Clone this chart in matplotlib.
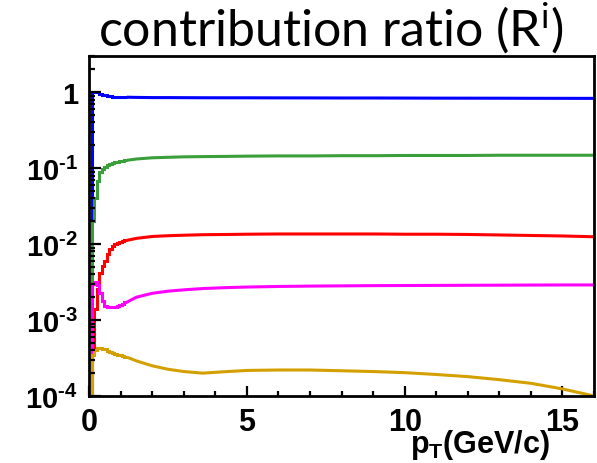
import math
import matplotlib
matplotlib.use("Agg")
import matplotlib.pyplot as plt
from matplotlib.ticker import FixedLocator, LogLocator, FuncFormatter, NullFormatter

# low pT part: histogram bins of 0.08 GeV/c
low_edges = [0.0, 0.08, 0.16, 0.24, 0.32, 0.40, 0.48, 0.56, 0.64, 0.72, 0.80,
             0.88, 0.96, 1.04, 1.12, 1.20]
blue_low = [0.021, 1.0, 1.01, 1.0, 0.96, 0.93, 0.91, 0.895, 0.885, 0.878, 0.872,
            0.868, 0.865, 0.862, 0.86]
green_low = [2.8e-3, 0.020, 0.041, 0.068, 0.088, 0.097, 0.105, 0.110, 0.113, 0.116,
             0.119, 0.121, 0.123, 0.125, 0.127]
red_low = [5e-5, 3.6e-4, 1.4e-3, 2.6e-3, 4.2e-3, 5.2e-3, 6.0e-3, 7.4e-3, 8.6e-3,
           9.5e-3, 1.0e-2, 1.04e-2, 1.07e-2, 1.1e-2, 1.12e-2]
magenta_low = [5e-5, 3.0e-3, 3.2e-3, 2.9e-3, 2.3e-3, 1.8e-3, 1.55e-3, 1.5e-3, 1.47e-3,
               1.47e-3, 1.5e-3, 1.55e-3, 1.6e-3, 1.65e-3, 1.72e-3]
gold_low = [5e-5, 3.5e-4, 4.0e-4, 4.25e-4, 4.28e-4, 4.2e-4, 4.1e-4, 3.95e-4, 3.8e-4,
            3.7e-4, 3.6e-4, 3.5e-4, 3.42e-4, 3.35e-4, 3.25e-4]

# high pT part: smooth, read at these pT values
pt_high = [1.2, 1.5, 2.0, 2.5, 3.0, 3.6, 4.4, 5, 6, 7, 8, 9, 10, 11, 12, 13, 14, 15, 16]
blue_high = [0.86, 0.855, 0.85, 0.85, 0.848, 0.846, 0.845, 0.845, 0.843, 0.842, 0.84,
             0.84, 0.838, 0.836, 0.835, 0.834, 0.832, 0.831, 0.83]
green_high = [0.127, 0.132, 0.137, 0.139, 0.141, 0.142, 0.143, 0.144, 0.145, 0.145,
              0.146, 0.146, 0.147, 0.147, 0.147, 0.148, 0.148, 0.148, 0.148]
red_high = [1.12e-2, 1.19e-2, 1.26e-2, 1.29e-2, 1.31e-2, 1.33e-2, 1.34e-2, 1.35e-2,
            1.36e-2, 1.36e-2, 1.36e-2, 1.36e-2, 1.35e-2, 1.35e-2, 1.34e-2, 1.32e-2,
            1.3e-2, 1.28e-2, 1.25e-2]
magenta_high = [1.72e-3, 2.0e-3, 2.25e-3, 2.4e-3, 2.5e-3, 2.6e-3, 2.68e-3, 2.72e-3,
                2.77e-3, 2.8e-3, 2.82e-3, 2.84e-3, 2.85e-3, 2.86e-3, 2.87e-3, 2.88e-3,
                2.89e-3, 2.9e-3, 2.9e-3]
gold_high = [3.25e-4, 2.9e-4, 2.5e-4, 2.25e-4, 2.1e-4, 2.0e-4, 2.1e-4, 2.17e-4, 2.2e-4,
             2.2e-4, 2.15e-4, 2.1e-4, 2.03e-4, 1.92e-4, 1.8e-4, 1.64e-4, 1.47e-4,
             1.24e-4, 1.0e-4]

series = [
    (blue_low, blue_high, "#0000ff"),
    (green_low, green_high, "#3a9e3a"),
    (red_low, red_high, "#ff0000"),
    (magenta_low, magenta_high, "#ff00ff"),
    (gold_low, gold_high, "#d4a000"),
]

plt.rcParams['mathtext.fontset'] = 'custom'
plt.rcParams['mathtext.rm'] = 'Liberation Sans:bold'
plt.rcParams['mathtext.it'] = 'Liberation Sans:bold'
plt.rcParams['mathtext.bf'] = 'Liberation Sans:bold'

fig = plt.figure(figsize=(5.97, 4.64), dpi=100)
ax = fig.add_axes([89 / 597, 1 - 397 / 464, 505 / 597, 340 / 464])

for low, high, col in series:
    ax.stairs(low, low_edges, baseline=None, color=col, linewidth=2.2)
    ax.plot(pt_high, high, color=col, linewidth=2.2, solid_capstyle='butt')

ax.set_yscale('log')
ax.set_xlim(0, 16)
ax.set_ylim(1e-4, 3)

for s in ax.spines.values():
    s.set_linewidth(2.0)

ax.xaxis.set_major_locator(FixedLocator([0, 5, 10, 15]))
ax.xaxis.set_minor_locator(FixedLocator(list(range(0, 17))))
ax.yaxis.set_major_locator(LogLocator(base=10, numticks=10))
ax.yaxis.set_minor_locator(LogLocator(base=10, subs=range(2, 10), numticks=10))
ax.yaxis.set_minor_formatter(NullFormatter())


def ylab(v, pos):
    if abs(v - 1) < 1e-9:
        return "1"
    e = int(round(math.log10(v)))
    return r"$10^{\text{-}%d}$" % abs(e)


ax.yaxis.set_major_formatter(FuncFormatter(ylab))

ax.tick_params(axis='y', which='major', direction='in', length=8.5, width=1.6,
               labelsize=21, pad=8)
ax.tick_params(axis='y', which='minor', direction='in', length=4.5, width=1.6)
ax.tick_params(axis='x', which='major', direction='in', length=7.2, width=1.6,
               labelsize=22, pad=8)
ax.tick_params(axis='x', which='minor', direction='in', length=3.6, width=1.6)
for lab in ax.get_xticklabels() + ax.get_yticklabels():
    lab.set_fontfamily('Liberation Sans')
    lab.set_fontweight('bold')

fig.text(550 / 597, 1 - 453 / 464, r"$p_{T}(GeV/c)$", ha='right', va='baseline',
         fontsize=22)
fig.text(331 / 597, 1 - 46 / 464, "contribution ratio (R$^{\\mathregular{i}}$)",
         ha='center', va='baseline', fontsize=36, family='Lato')

fig.savefig("out.png", dpi=100)
